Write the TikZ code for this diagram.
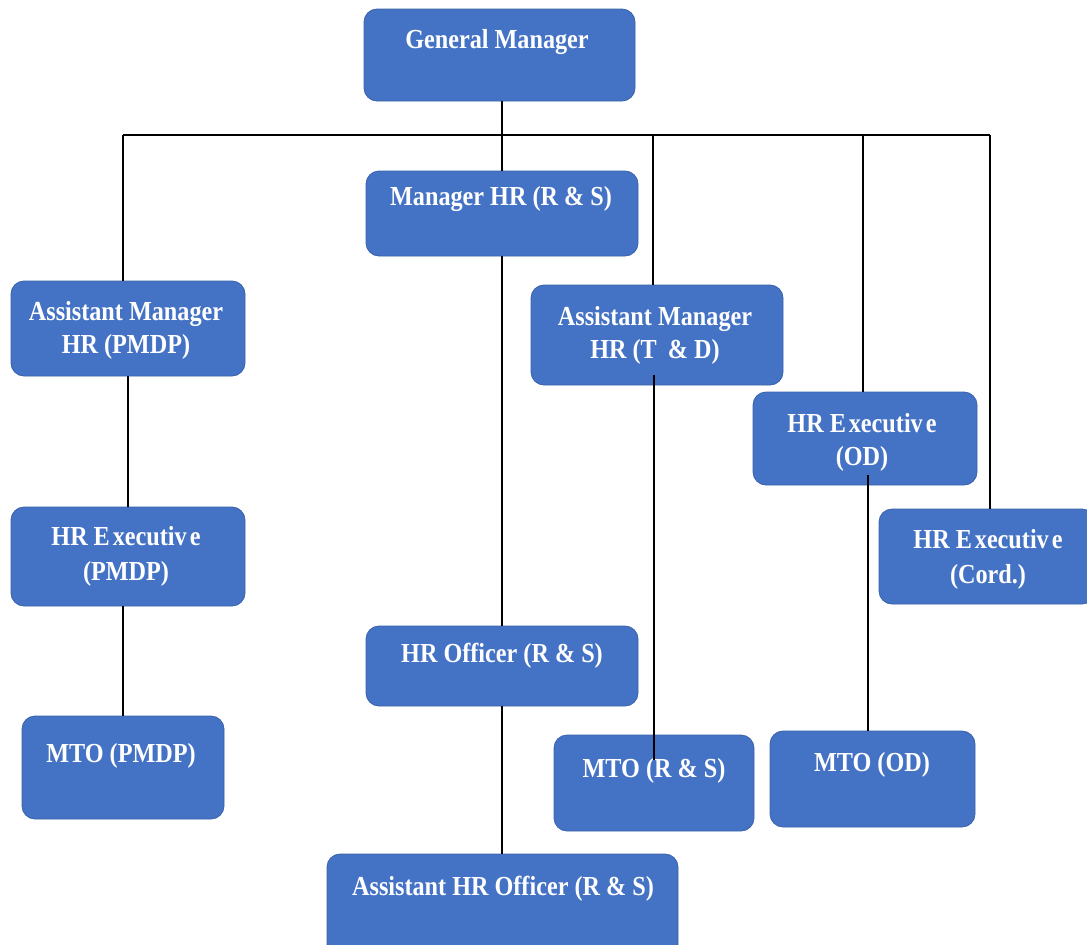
\documentclass[tikz,border=0pt]{standalone}
\usepackage{fontspec}
\setmainfont{Liberation Serif}[FakeStretch=0.88]
\definecolor{boxblue}{HTML}{4472C4}
\definecolor{boxborder}{HTML}{3A62AA}
\begin{document}
\begin{tikzpicture}[x=1pt,y=-1pt,
  box/.style={draw=boxborder, fill=boxblue, rounded corners=13pt, line width=0.8pt, inner sep=0pt},
  txt/.style={text=white, font=\fontsize{27.5}{31}\selectfont\bfseries, anchor=base, inner sep=0pt},
  conn/.style={draw=black, line width=1.3pt}]
\useasboundingbox (0,0) rectangle (1087,945);
\begin{scope}
\clip (0,0) rectangle (1087,945);
% boxes
\node[box, minimum width=271pt, minimum height=92pt] (gm) at (499.5,55) {};
\node[box, minimum width=272pt, minimum height=85pt] (mgr) at (502,213.5) {};
\node[box, minimum width=234pt, minimum height=95pt] (ampmdp) at (128,328.5) {};
\node[box, minimum width=252pt, minimum height=100pt] (amtd) at (657,335) {};
\node[box, minimum width=224pt, minimum height=93pt] (exod) at (865,438.5) {};
\node[box, minimum width=216pt, minimum height=95pt] (excord) at (987,556.5) {};
\node[box, minimum width=234pt, minimum height=99pt] (expmdp) at (128,556.5) {};
\node[box, minimum width=202pt, minimum height=103pt] (mtopmdp) at (123,767.5) {};
\node[box, minimum width=272pt, minimum height=80pt] (hro) at (502,666) {};
\node[box, minimum width=351pt, minimum height=106pt] (ahro) at (502.5,907) {};
\node[box, minimum width=200pt, minimum height=96pt] (mtors) at (654,783) {};
\node[box, minimum width=205pt, minimum height=96pt] (mtood) at (872.5,779) {};
\end{scope}
% texts
\node[txt] (gmT) at (497,48) {General Manager};
\node[txt] (mgrT) at (501,205) {Manager HR (R \& S)};
\node[txt] (ampmdpT1) at (126,320) {Assistant Manager};
\node[txt] (ampmdpT2) at (126,353) {HR (PMDP)};
\node[txt] (amtdT1) at (655,325) {Assistant Manager};
\node[txt] (amtdT2) at (655,358) {HR (T\hspace{5pt} \& D)};
\node[txt] (exodT1) at (862,432) {HR E\hspace{3pt}xecutiv\hspace{3pt}e};
\node[txt] (exodT2) at (862,465) {(OD)};
\node[txt] (excordT1) at (988,548) {HR E\hspace{3pt}xecutiv\hspace{3pt}e};
\node[txt] (excordT2) at (988,583) {(Cord.)};
\node[txt] (expmdpT1) at (126,545) {HR E\hspace{3pt}xecutiv\hspace{3pt}e};
\node[txt] (expmdpT2) at (126,580) {(PMDP)};
\node[txt] (mtopmdpT) at (121,762) {MTO (PMDP)};
\node[txt] (hroT) at (502,662) {HR Officer (R \& S)};
\node[txt] (ahroT) at (503,895) {Assistant HR Officer (R \& S)};
\node[txt] (mtorsT) at (654,777) {MTO (R \& S)};
\node[txt] (mtoodT) at (872,771) {MTO (OD)};
% connectors
\coordinate (busL) at (123,135);
\coordinate (busTD) at (653,135);
\coordinate (busOD) at (863,135);
\coordinate (busR) at (990,135);
\coordinate (tdLow) at (654,375);
\coordinate (rsIn) at (654,760);
\coordinate (odLow) at (868,475);
\draw[conn] (busL) -- (busR);
\draw[conn] (gm.south -| mgr.north) -- (mgr.north);
\draw[conn] (busL) -- (busL |- ampmdp.north);
\draw[conn] (busTD) -- (busTD |- amtd.north);
\draw[conn] (busOD) -- (busOD |- exod.north);
\draw[conn] (busR) -- (busR |- excord.north);
\draw[conn] (ampmdp.south) -- (expmdp.north);
\draw[conn] (mtopmdp.north |- expmdp.south) -- (mtopmdp.north);
\draw[conn] (mgr.south) -- (hro.north);
\draw[conn] (hro.south) -- (hro.south |- ahro.north);
\draw[conn] (tdLow) -- (rsIn);
\draw[conn] (odLow) -- (odLow |- mtood.north);
\end{tikzpicture}
\end{document}
